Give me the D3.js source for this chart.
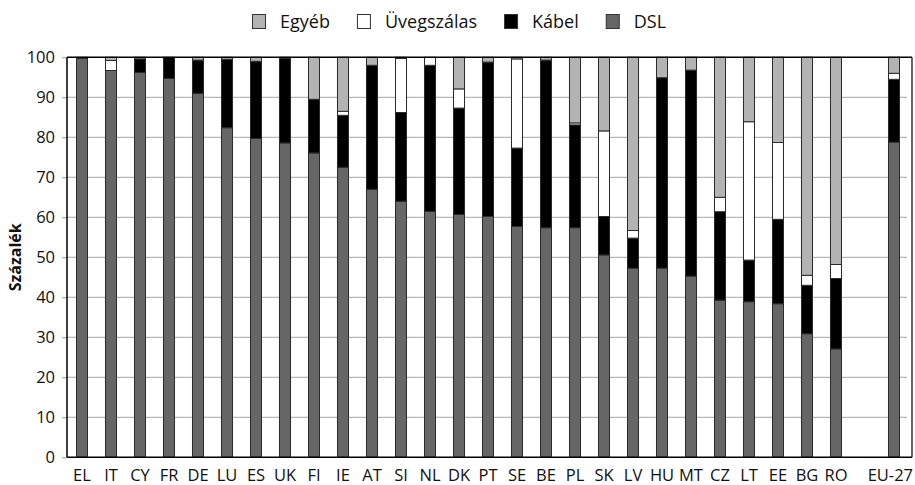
<!DOCTYPE html>
<html>
<head>
<meta charset="utf-8">
<script src="https://cdn.jsdelivr.net/npm/d3@7"></script>
<style>
  html, body { margin: 0; padding: 0; background: #fff; }
  svg { display: block; }
  text { font-family: "Open Sans", "Noto Sans", sans-serif; fill: #111; }
</style>
</head>
<body>
<svg id="chart" width="915" height="485"></svg>
<script>
// ---- data ----
const countries = ["EL","IT","CY","FR","DE","LU","ES","UK","FI","IE","AT","SI","NL","DK","PT","SE","BE","PL","SK","LV","HU","MT","CZ","LT","EE","BG","RO","EU-27"];
const dsl    = [99.7,96.7,96.2,94.7,91.0,82.4,79.7,78.6,76.1,72.5,67.0,64.0,61.5,60.7,60.2,57.7,57.4,57.4,50.6,47.3,47.3,45.3,39.3,38.9,38.4,30.9,27.1,78.8];
const kabel  = [0.3,0.0,3.4,5.3,8.3,17.1,19.3,21.2,13.4,13.0,31.0,22.2,36.5,26.6,38.6,19.6,41.9,25.7,9.6,7.5,47.6,51.5,22.1,10.4,21.1,12.1,17.6,15.7];
const uveg   = [0.0,2.5,0.0,0.0,0.0,0.0,0.0,0.0,0.0,1.0,0.0,13.5,2.0,4.8,0.0,22.3,0.0,0.5,21.4,1.9,0.0,0.0,3.6,34.6,19.2,2.5,3.5,1.5];
const egyeb  = [0.0,0.8,0.4,0.0,0.7,0.5,1.0,0.2,10.5,13.5,2.0,0.3,0.0,7.9,1.2,0.4,0.7,16.4,18.4,43.3,5.1,3.2,35.0,16.1,21.3,54.5,51.8,4.0];
const seriesNames = ["DSL","Kábel","Üvegszálas","Egyéb"];
const legendOrder = ["Egyéb","Üvegszálas","Kábel","DSL"];
const yTicks = [0,10,20,30,40,50,60,70,80,90,100];
const yTitle = "Százalék";

// ---- styling ----
const colors = {"DSL":"#666666","Kábel":"#000000","Üvegszálas":"#ffffff","Egyéb":"#b3b3b3"};
const svg = d3.select("#chart");
const plot = {left:67, right:912, top:57.3, bottom:457.3};

const rows = countries.map((c,i)=>({country:c, "DSL":dsl[i], "Kábel":kabel[i], "Üvegszálas":uveg[i], "Egyéb":egyeb[i]}));
const stacked = d3.stack().keys(seriesNames)(rows);

const gapKey = "__gap__";
const domain = countries.slice(0, countries.length-1).concat([gapKey, countries[countries.length-1]]);
const x = d3.scaleBand().domain(domain).range([67.5, 908.5]).paddingInner(0.62).paddingOuter(0.31);
const y = d3.scaleLinear().domain([0,100]).range([plot.bottom, plot.top]);

// gridlines
svg.append("g").selectAll("line").data(yTicks.filter(t=>t>0 && t<100)).join("line")
  .attr("x1", plot.left).attr("x2", 907)
  .attr("y1", d=>y(d)).attr("y2", d=>y(d))
  .attr("stroke", "#b8b8b8").attr("stroke-width", 1.2);

// y axis
const yAxis = svg.append("g").attr("transform", `translate(${plot.left},0)`)
  .call(d3.axisLeft(y).tickValues(yTicks).tickSize(5).tickPadding(7));
yAxis.select(".domain").remove();
yAxis.selectAll(".tick line").attr("stroke", "#999");
yAxis.selectAll(".tick text").attr("font-size", 16.5).attr("font-family", "Open Sans").attr("fill", "#111");

// bars
svg.append("g").selectAll("g").data(stacked).join("g")
  .attr("fill", d=>colors[d.key])
  .selectAll("rect").data(d=>d.filter(s=>s[1]-s[0]>0)).join("rect")
  .attr("x", d=>x(d.data.country))
  .attr("width", x.bandwidth())
  .attr("y", d=>y(d[1]))
  .attr("height", d=>y(d[0])-y(d[1]))
  .attr("stroke", "#2a2a2a").attr("stroke-width", 1);

// frame
svg.append("line").attr("x1", plot.left).attr("x2", plot.right).attr("y1", plot.top).attr("y2", plot.top).attr("stroke","#000").attr("stroke-width",1.5);
svg.append("line").attr("x1", plot.left).attr("x2", plot.right).attr("y1", plot.bottom).attr("y2", plot.bottom).attr("stroke","#000").attr("stroke-width",1.5);
svg.append("line").attr("x1", plot.left).attr("x2", plot.left).attr("y1", plot.top).attr("y2", plot.bottom).attr("stroke","#000").attr("stroke-width",1.5);
svg.append("line").attr("x1", plot.right).attr("x2", plot.right).attr("y1", plot.top).attr("y2", plot.bottom).attr("stroke","#000").attr("stroke-width",1.2);

// x labels
const xAxis = svg.append("g").attr("transform", `translate(0,${plot.bottom})`)
  .call(d3.axisBottom(x).tickValues(countries).tickSize(0).tickPadding(0));
xAxis.select(".domain").remove();
xAxis.selectAll(".tick text").attr("dy", null).attr("y", 24)
  .attr("font-size", 16.5).attr("font-family", "Open Sans").attr("fill", "#111");
// keep the last label inside the picture
xAxis.selectAll(".tick text").filter(d=>d==="EU-27")
  .attr("text-anchor", "end").attr("x", 913 - x("EU-27") - x.bandwidth()/2);

// y title
svg.append("text").attr("transform", `translate(21,${(plot.top+plot.bottom)/2}) rotate(-90)`)
  .attr("text-anchor","middle").attr("font-size", 16).attr("font-weight", "bold").text(yTitle);

// legend
const lg = svg.append("g");
let lx = 252;
legendOrder.forEach(name=>{
  lg.append("rect").attr("x", lx+0.5).attr("y", 14.5).attr("width", 13).attr("height", 14)
    .attr("fill", colors[name]).attr("stroke", "#333").attr("stroke-width", 1);
  const t = lg.append("text").attr("x", lx+28).attr("y", 28).attr("font-size", 18).text(name);
  lx = lx + 28 + t.node().getComputedTextLength() + 27;
});
</script>
</body>
</html>
